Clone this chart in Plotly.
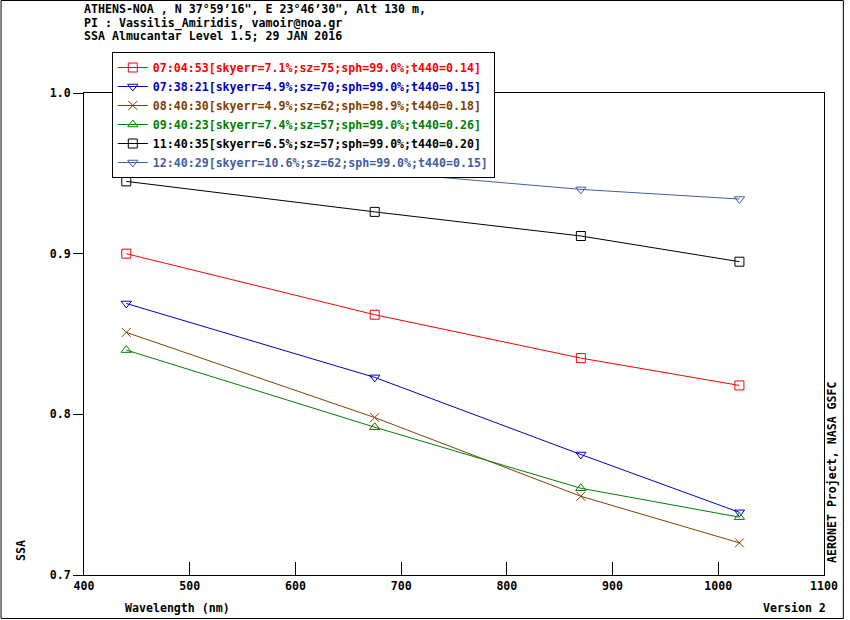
import plotly.graph_objects as go

wavelengths = [440, 675, 870, 1020]

labels = [
    "07:04:53[skyerr=7.1%;sz=75;sph=99.0%;t440=0.14]",
    "07:38:21[skyerr=4.9%;sz=70;sph=99.0%;t440=0.15]",
    "08:40:30[skyerr=4.9%;sz=62;sph=98.9%;t440=0.18]",
    "09:40:23[skyerr=7.4%;sz=57;sph=99.0%;t440=0.26]",
    "11:40:35[skyerr=6.5%;sz=57;sph=99.0%;t440=0.20]",
    "12:40:29[skyerr=10.6%;sz=62;sph=99.0%;t440=0.15]",
]

ssa_0704 = [0.900, 0.862, 0.835, 0.818]
ssa_0738 = [0.869, 0.823, 0.775, 0.739]
ssa_0840 = [0.851, 0.798, 0.749, 0.720]
ssa_0940 = [0.840, 0.792, 0.754, 0.736]
ssa_1140 = [0.945, 0.926, 0.911, 0.895]
ssa_1240 = [0.962, 0.951, 0.940, 0.934]

series = [ssa_0704, ssa_0738, ssa_0840, ssa_0940, ssa_1140, ssa_1240]
colors = ["#FF0000", "#0000C0", "#804000", "#008000", "#000000", "#4060A0"]
symbols = ["square-open", "triangle-down-open", "x-thin-open",
           "triangle-up-open", "square-open", "triangle-down-open"]

W, H = 850, 620
L, R, T, B = 84, 21, 93, 45
PW, PH = W - L - R, H - T - B
FONT = "DejaVu Sans Mono"
FS = 11.6


def px(xp):
    return (xp - L) / PW


def py(yp):
    return (H - B - yp) / PH


fig = go.Figure()
for vals, lab, col, sym in zip(series, labels, colors, symbols):
    fig.add_trace(go.Scatter(
        x=wavelengths, y=vals, mode="lines+markers",
        name=f'<span style="color:{col}">{lab}</span>',
        line=dict(color=col, width=1),
        marker=dict(symbol=sym, size=9, color=col, line=dict(color=col, width=1)),
    ))

fig.update_layout(
    width=W, height=H, autosize=False,
    margin=dict(l=L, r=R, t=T, b=B),
    paper_bgcolor="white", plot_bgcolor="white",
    font=dict(family=FONT, size=FS, color="black", weight="bold"),
    showlegend=True,
    legend=dict(
        x=px(112), y=py(52), xanchor="left", yanchor="top",
        bgcolor="white", bordercolor="black", borderwidth=1,
        font=dict(family=FONT, size=FS, weight="bold"),
        itemwidth=30, tracegroupgap=0,
    ),
    xaxis=dict(
        range=[400, 1100], dtick=100, tick0=400,
        showline=True, linecolor="black", linewidth=1, mirror=True,
        ticks="inside", ticklen=13, tickcolor="black",
        showgrid=False, zeroline=False,
        tickfont=dict(family=FONT, size=FS, weight="bold"),
    ),
    yaxis=dict(
        range=[0.7, 1.0], dtick=0.1, tick0=0.7, tickformat=".1f",
        showline=True, linecolor="black", linewidth=1, mirror=True,
        ticks="outside", ticklen=10, tickcolor="black",
        showgrid=False, zeroline=False,
        tickfont=dict(family=FONT, size=FS, weight="bold"),
    ),
)

header = [
    ("ATHENS-NOA , N 37\u00b059\u201916\", E 23\u00b046\u201930\", Alt 130 m,", 9),
    ("PI : Vassilis_Amiridis, vamoir@noa.gr", 23),
    ("SSA Almucantar Level 1.5; 29 JAN 2016", 36),
]
for txt, yp in header:
    fig.add_annotation(text=txt, xref="paper", yref="paper", x=px(82), y=py(yp),
                       xanchor="left", yanchor="middle", showarrow=False,
                       font=dict(family=FONT, size=FS, weight="bold"))

fig.add_annotation(text="Wavelength (nm)", xref="paper", yref="paper",
                   x=px(123), y=py(608), xanchor="left", yanchor="middle",
                   showarrow=False, font=dict(family=FONT, size=FS, weight="bold"))
fig.add_annotation(text="Version 2", xref="paper", yref="paper",
                   x=px(833), y=py(608), xanchor="right", yanchor="middle",
                   showarrow=False, font=dict(family=FONT, size=FS, weight="bold"))
fig.add_annotation(text="SSA", xref="paper", yref="paper",
                   x=px(20), y=py(563), xanchor="center", yanchor="bottom",
                   textangle=-90, showarrow=False,
                   font=dict(family=FONT, size=FS, weight="bold"))
fig.add_annotation(text="AERONET Project, NASA GSFC", xref="paper", yref="paper",
                   x=px(837), y=py(565), xanchor="center", yanchor="bottom",
                   textangle=-90, showarrow=False,
                   font=dict(family=FONT, size=FS, weight="bold"))

# outer frame of the picture
fig.add_shape(type="rect", xref="paper", yref="paper",
              x0=px(0.5), x1=px(W - 1.5), y0=py(H - 1.5), y1=py(0.5),
              line=dict(color="black", width=1), fillcolor="rgba(0,0,0,0)",
              layer="above")

fig.write_html("out.html", config={"displayModeBar": False, "responsive": False})

# remove the default page margin so the figure fills the window exactly
with open("out.html", "r", encoding="utf-8") as f:
    html = f.read()
html = html.replace("<head>", "<head><style>html,body{margin:0;padding:0;overflow:hidden;}</style>", 1)
with open("out.html", "w", encoding="utf-8") as f:
    f.write(html)
